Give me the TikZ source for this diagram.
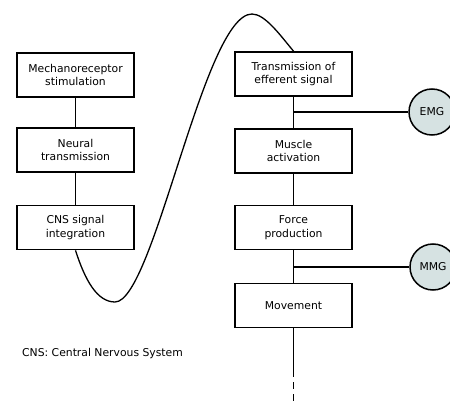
\documentclass[tikz,border=0pt]{standalone}
\usepackage{fontspec}
\setmainfont{DejaVu Sans}
\usetikzlibrary{positioning}

\definecolor{probefill}{RGB}{214,226,226}
\tikzset{
    stagebox/.style={draw, line width=1.7pt, minimum width=117pt, minimum height=44pt, align=center, inner sep=2pt},
    probe/.style={draw, circle, fill=probefill, line width=1.5pt, minimum size=46pt, inner sep=0pt},
    link/.style={line width=1.3pt}
}

\begin{document}
\begin{tikzpicture}[x=1pt, y=-1pt, font=\fontsize{10.8}{13.5}\selectfont]
    \useasboundingbox (0,0) rectangle (450,401);
    % afferent column
    \node[stagebox] (mech) at (75.5, 75) {Mechanoreceptor\\stimulation};
    \node[stagebox] (neural) at (75.5, 150) {Neural\\transmission};
    \node[stagebox] (cns) at (75.5, 227.5) {CNS signal\\integration};
    % efferent column
    \node[stagebox] (efferent) at (293.5, 74) {Transmission of\\efferent signal};
    \node[stagebox] (muscle) at (293.5, 151) {Muscle\\activation};
    \node[stagebox] (force) at (293.5, 227.5) {Force\\production};
    \node[stagebox] (move) at (293.5, 305.5) {Movement};
    \node[probe] (emg) at (432, 112) {EMG};
    \node[probe] (mmg) at (433, 267) {MMG};
    \node[anchor=west, inner sep=0pt] (legend) at (22, 354) {CNS: Central Nervous System};
    \coordinate (emgjoin) at (293.5, 112);
    \coordinate (mmgjoin) at (293.5, 267);
    \coordinate (dashstart) at (293.5, 370);
    \coordinate (tail) at (293.5, 401);

    \draw[link] (mech) -- (neural);
    \draw[link] (neural) -- (cns);
    \draw[link] (efferent) -- (muscle);
    \draw[link] (muscle) -- (force);
    \draw[link] (force) -- (move);
    \draw[link] (emgjoin) -- (emg);
    \draw[link] (mmgjoin) -- (mmg);
    \draw[link] (move) -- (dashstart);
    \draw[link, dash pattern=on 7pt off 5pt] (dashstart) -- (tail);
    % loop through the CNS
    \draw[link] (cns.south) .. controls (85, 280) and (97, 302) .. (115, 302)
        .. controls (153.8, 302) and (203.9, 14) .. (252, 14)
        .. controls (265, 14) and (280, 35) .. (efferent.north);
\end{tikzpicture}
\end{document}
